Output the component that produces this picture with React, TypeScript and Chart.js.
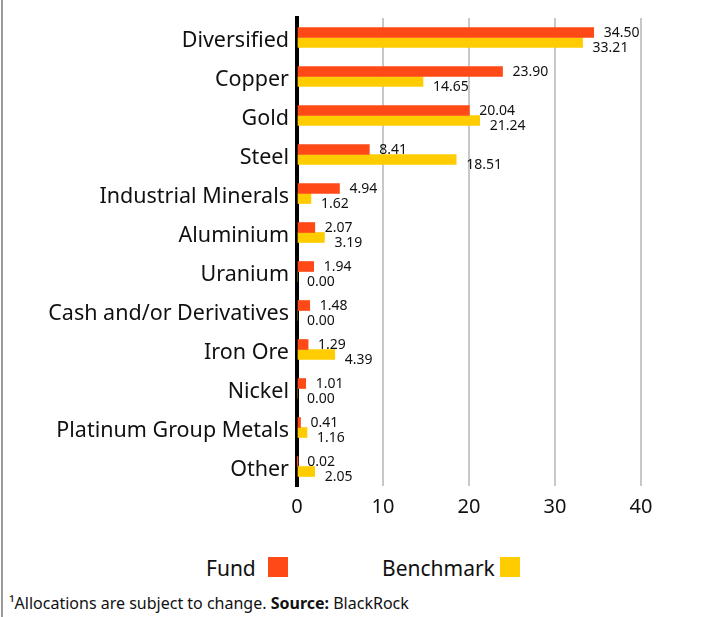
import React, { useEffect, useRef } from "react";
import { Chart, registerables } from "chart.js";

Chart.register(...registerables);

const categories = [
  "Diversified",
  "Copper",
  "Gold",
  "Steel",
  "Industrial Minerals",
  "Aluminium",
  "Uranium",
  "Cash and/or Derivatives",
  "Iron Ore",
  "Nickel",
  "Platinum Group Metals",
  "Other",
];
const fundValues = [34.5, 23.9, 20.04, 8.41, 4.94, 2.07, 1.94, 1.48, 1.29, 1.01, 0.41, 0.02];
const benchmarkValues = [33.21, 14.65, 21.24, 18.51, 1.62, 3.19, 0.0, 0.0, 4.39, 0.0, 1.16, 2.05];
const seriesNames = ["Fund", "Benchmark"];
const xTicks = [0, 10, 20, 30, 40];

const FUND_COLOR = "#FF4A17";
const BENCH_COLOR = "#FFCC00";
const FONT = "'Noto Sans'";

const valueLabelPlugin = {
  id: "valueLabels",
  afterDatasetsDraw(chart: any) {
    const ctx = chart.ctx;
    ctx.save();
    ctx.font = `14px ${FONT}`;
    ctx.fillStyle = "#111";
    ctx.textAlign = "left";
    ctx.textBaseline = "middle";
    chart.data.datasets.forEach((ds: any, di: number) => {
      const meta = chart.getDatasetMeta(di);
      meta.data.forEach((bar: any, i: number) => {
        const v = ds.data[i] as number;
        const dy = di === 0 ? 1 : 6;
        ctx.fillText(v.toFixed(2), bar.x + 10, bar.y + dy);
      });
    });
    ctx.restore();
  },
};

export default function App() {
  const ref = useRef<HTMLCanvasElement | null>(null);

  useEffect(() => {
    if (!ref.current) return;
    const chart = new Chart(ref.current, {
      type: "bar",
      data: {
        labels: categories,
        datasets: [
          {
            label: seriesNames[0],
            data: fundValues,
            backgroundColor: FUND_COLOR,
            barThickness: 10,
          },
          {
            label: seriesNames[1],
            data: benchmarkValues,
            backgroundColor: BENCH_COLOR,
            barThickness: 10,
          },
        ],
      },
      options: {
        indexAxis: "y",
        responsive: false,
        animation: false,
        devicePixelRatio: 1,
        layout: { padding: { left: 0, right: 77, top: 18, bottom: 0 } },
        plugins: {
          legend: { display: false },
          tooltip: { enabled: false },
        },
        scales: {
          x: {
            min: 0,
            max: 40,
            afterBuildTicks(scale: any) {
              scale.ticks = xTicks.map((v) => ({ value: v }));
            },
            afterFit(scale: any) {
              scale.height = 44;
            },
            border: { display: false },
            grid: {
              drawTicks: false,
              lineWidth: 2,
              color: (c: any) => (c.tick && c.tick.value === 0 ? "rgba(0,0,0,0)" : "#C8C8C8"),
            },
            ticks: {
              padding: 9,
              color: "#111",
              font: { family: FONT, size: 20 },
            },
          },
          y: {
            afterFit(scale: any) {
              scale.width = 297;
            },
            border: { display: true, color: "#000", width: 4 },
            grid: { display: false },
            ticks: {
              padding: 0,
              labelOffset: 3,
              color: "#111",
              font: { family: FONT, size: 21.5 },
            },
          },
        },
      },
      plugins: [valueLabelPlugin],
    });
    return () => chart.destroy();
  }, []);

  const legendText: React.CSSProperties = {
    position: "absolute",
    fontFamily: FONT,
    fontSize: 21,
    color: "#111",
    lineHeight: "24px",
  };
  const box = (color: string, left: number): React.CSSProperties => ({
    position: "absolute",
    left,
    top: 557,
    width: 20,
    height: 20,
    background: color,
  });

  return (
    <div
      style={{
        position: "absolute",
        left: 0,
        top: 0,
        width: 718,
        height: 617,
        background: "#fff",
        overflow: "hidden",
      }}
    >
      <div style={{ position: "absolute", left: 1, top: 0, width: 2, height: 617, background: "#999" }} />
      <canvas ref={ref} width={718} height={530} style={{ position: "absolute", left: 0, top: 0 }} />
      <div style={{ ...legendText, left: 206, top: 556 }}>{seriesNames[0]}</div>
      <div style={box(FUND_COLOR, 268)} />
      <div style={{ ...legendText, left: 382, top: 556 }}>{seriesNames[1]}</div>
      <div style={box(BENCH_COLOR, 500)} />
      <div
        style={{
          position: "absolute",
          left: 9,
          top: 593,
          fontFamily: FONT,
          fontSize: 16,
          color: "#111",
          lineHeight: "20px",
          whiteSpace: "nowrap",
        }}
      >
        ¹Allocations are subject to change. <b>Source:</b> BlackRock
      </div>
    </div>
  );
}
